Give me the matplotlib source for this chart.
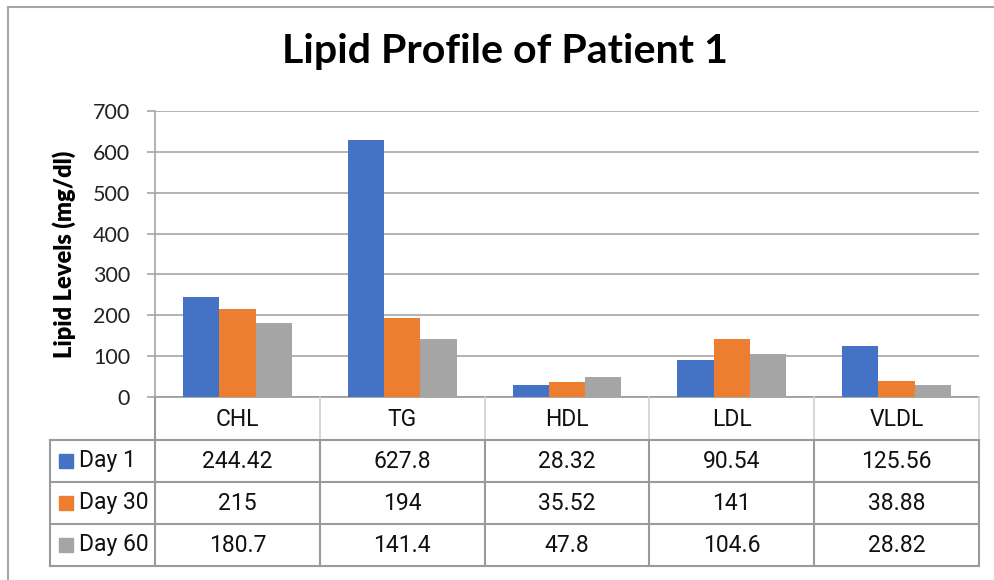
import matplotlib.pyplot as plt
import matplotlib.transforms as mtransforms
from matplotlib.lines import Line2D
from matplotlib.patches import Rectangle
import numpy as np

categories = ["CHL", "TG", "HDL", "LDL", "VLDL"]
series_names = ["Day 1", "Day 30", "Day 60"]
day1 = [244.42, 627.8, 28.32, 90.54, 125.56]
day30 = [215, 194, 35.52, 141, 38.88]
day60 = [180.7, 141.4, 47.8, 104.6, 28.82]
colors = ["#4472C4", "#ED7D31", "#A5A5A5"]

W, H = 995, 580
fig = plt.figure(figsize=(W / 100, H / 100), dpi=100)

# plot area in pixels
left, right, top, bottom = 155, 979, 111, 397
ax = fig.add_axes([left / W, 1 - bottom / H, (right - left) / W, (bottom - top) / H])

series = [day1, day30, day60]
x = np.arange(len(categories))
bw = 0.22
for i, (name, vals) in enumerate(zip(series_names, series)):
    ax.bar(x + (i - 1) * bw, vals, bw, color=colors[i], zorder=3, label=name)

ax.set_xlim(-0.5, len(categories) - 0.5)
ax.set_ylim(0, 700)
ax.set_yticks(range(0, 701, 100))
ax.set_xticks([])
ax.grid(axis="y", color="#a6a6a6", lw=1.2, zorder=0)
for s in ["top", "right", "bottom"]:
    ax.spines[s].set_visible(False)
ax.spines["left"].set_color("#a6a6a6")
ax.spines["left"].set_linewidth(1.2)
ax.tick_params(axis="y", length=6, width=1.2, color="#a6a6a6", pad=12,
               labelsize=15.5, labelcolor="#222222")
for lab in ax.get_yticklabels():
    lab.set_fontfamily("Lato")
ax.set_ylabel("Lipid Levels (mg/dl)", fontsize=17, fontweight="heavy",
              family="Lato", labelpad=12)

title = fig.text(505 / W, 1 - 52 / H, "Lipid Profile of Patient 1", ha="center",
                 va="center", fontsize=30, fontweight="bold", family="Lato")
# shrink the title so it spans about the same width as the original
renderer = fig.canvas.get_renderer()
tw = title.get_window_extent(renderer).width
title.set_fontsize(30 * 445 / tw)

# data table below the axis
def ay(py):
    return (bottom - py) / (bottom - top)

def axx(px):
    return (px - left) / (right - left)

lc = "#9a9a9a"
row_edges = [397, 440, 482, 524, 566]
tr = ax.transAxes
blend = mtransforms.blended_transform_factory(ax.transData, ax.transAxes)

# horizontal lines
ax.add_line(Line2D([0, 1], [ay(397)] * 2, transform=tr, color=lc, lw=1.2, clip_on=False))
for py in row_edges[1:]:
    ax.add_line(Line2D([axx(50), 1], [ay(py)] * 2, transform=tr, color=lc, lw=1.5, clip_on=False))
# vertical lines
ax.add_line(Line2D([0, 0], [ay(397), ay(566)], transform=tr, color=lc, lw=1.5, clip_on=False))
ax.add_line(Line2D([axx(50), axx(50)], [ay(440), ay(566)], transform=tr, color=lc, lw=1.5, clip_on=False))
for k in range(1, len(categories) + 1):
    xb = k - 0.5
    ax.add_line(Line2D([xb, xb], [ay(397), ay(440)], transform=blend, color="#d0d0d0", lw=1.2, clip_on=False))
    ax.add_line(Line2D([xb, xb], [ay(440), ay(566)], transform=blend, color=lc, lw=1.5, clip_on=False))

tfont = dict(family="Roboto", fontsize=16.5, color="#111111", ha="center", va="center")
for j, cat in enumerate(categories):
    ax.text(j, ay(419), cat, transform=blend, clip_on=False, **tfont)
for i, (name, vals) in enumerate(zip(series_names, series)):
    yc = ay((row_edges[i + 1] + row_edges[i + 2]) / 2)
    for j, v in enumerate(vals):
        ax.text(j, yc, f"{v:g}", transform=blend, clip_on=False, **tfont)
    ax.add_patch(Rectangle((axx(59), yc - 7 / (bottom - top)), 14 / (right - left),
                           14 / (bottom - top), transform=tr, color=colors[i], clip_on=False))
    ax.text(axx(79), yc, name, transform=tr, clip_on=False,
            **{**tfont, "ha": "left"})

# chart border (left and top edges visible)
fig.add_artist(Line2D([8 / W, 8 / W], [0, 1 - 7 / H], transform=fig.transFigure, color="#a6a6a6", lw=1.5))
fig.add_artist(Line2D([8 / W, 1], [1 - 7 / H, 1 - 7 / H], transform=fig.transFigure, color="#a6a6a6", lw=1.5))

fig.savefig("out.png", dpi=100)
